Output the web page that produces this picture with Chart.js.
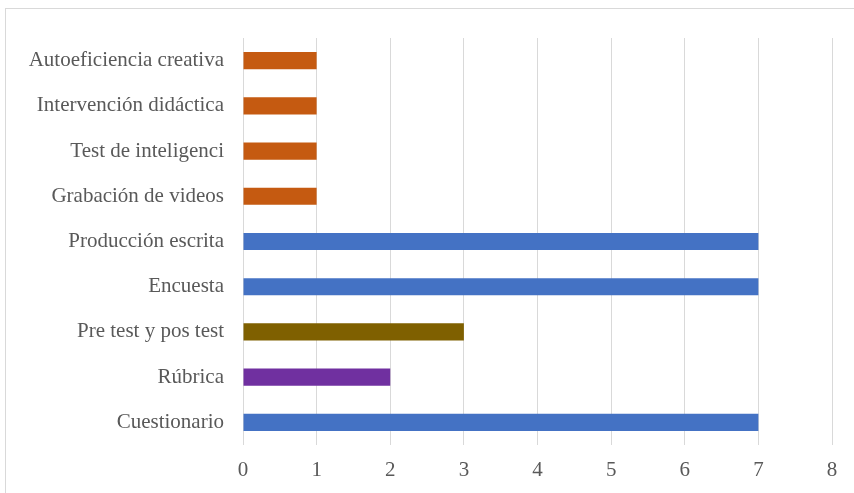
<!DOCTYPE html>
<html>
<head>
<meta charset="utf-8">
<script src="https://cdn.jsdelivr.net/npm/chart.js@4"></script>
<style>
  html, body { margin: 0; padding: 0; background: #ffffff; overflow: hidden; }
  #frame { position: absolute; left: 5px; top: 8px; width: 900px; height: 520px; border: 1px solid #d9d9d9; box-sizing: border-box; }
  #wrap { position: absolute; left: 0; top: 0; width: 854px; height: 493px; }
</style>
</head>
<body>
<div id="frame"></div>
<div id="wrap"><canvas id="c" width="854" height="493"></canvas></div>
<script>
const categories = ['Autoeficiencia creativa','Intervención didáctica','Test de inteligenci','Grabación de videos','Producción escrita','Encuesta','Pre test y pos test','Rúbrica','Cuestionario'];
const values = [1, 1, 1, 1, 7, 7, 3, 2, 7];
const barColors = ['#C55A11','#C55A11','#C55A11','#C55A11','#4472C4','#4472C4','#7F6000','#7030A0','#4472C4'];
const xTicks = [0, 1, 2, 3, 4, 5, 6, 7, 8];

new Chart(document.getElementById('c'), {
  type: 'bar',
  data: {
    labels: categories,
    datasets: [{
      data: values,
      backgroundColor: barColors,
      borderWidth: 0,
      categoryPercentage: 1,
      barPercentage: 0.38
    }]
  },
  options: {
    indexAxis: 'y',
    responsive: false,
    animation: false,
    layout: { padding: { top: 38, right: 22, left: 0, bottom: 0 } },
    plugins: { legend: { display: false }, tooltip: { enabled: false }, title: { display: false } },
    scales: {
      x: {
        min: xTicks[0], max: xTicks[xTicks.length - 1],
        afterBuildTicks: (s) => { s.ticks = xTicks.map(v => ({ value: v })); },
        grid: { color: '#d9d9d9', lineWidth: 1, drawTicks: false },
        border: { display: false },
        ticks: { color: '#595959', padding: 13, font: { family: 'Liberation Serif', size: 21 } },
        afterFit: (s) => { s.height = 48; }
      },
      y: {
        grid: { display: false, drawTicks: false },
        border: { display: false },
        ticks: { color: '#595959', padding: 19, font: { family: 'Liberation Serif', size: 21 } },
        afterFit: (s) => { s.width = 243; }
      }
    }
  }
});
</script>
</body>
</html>
